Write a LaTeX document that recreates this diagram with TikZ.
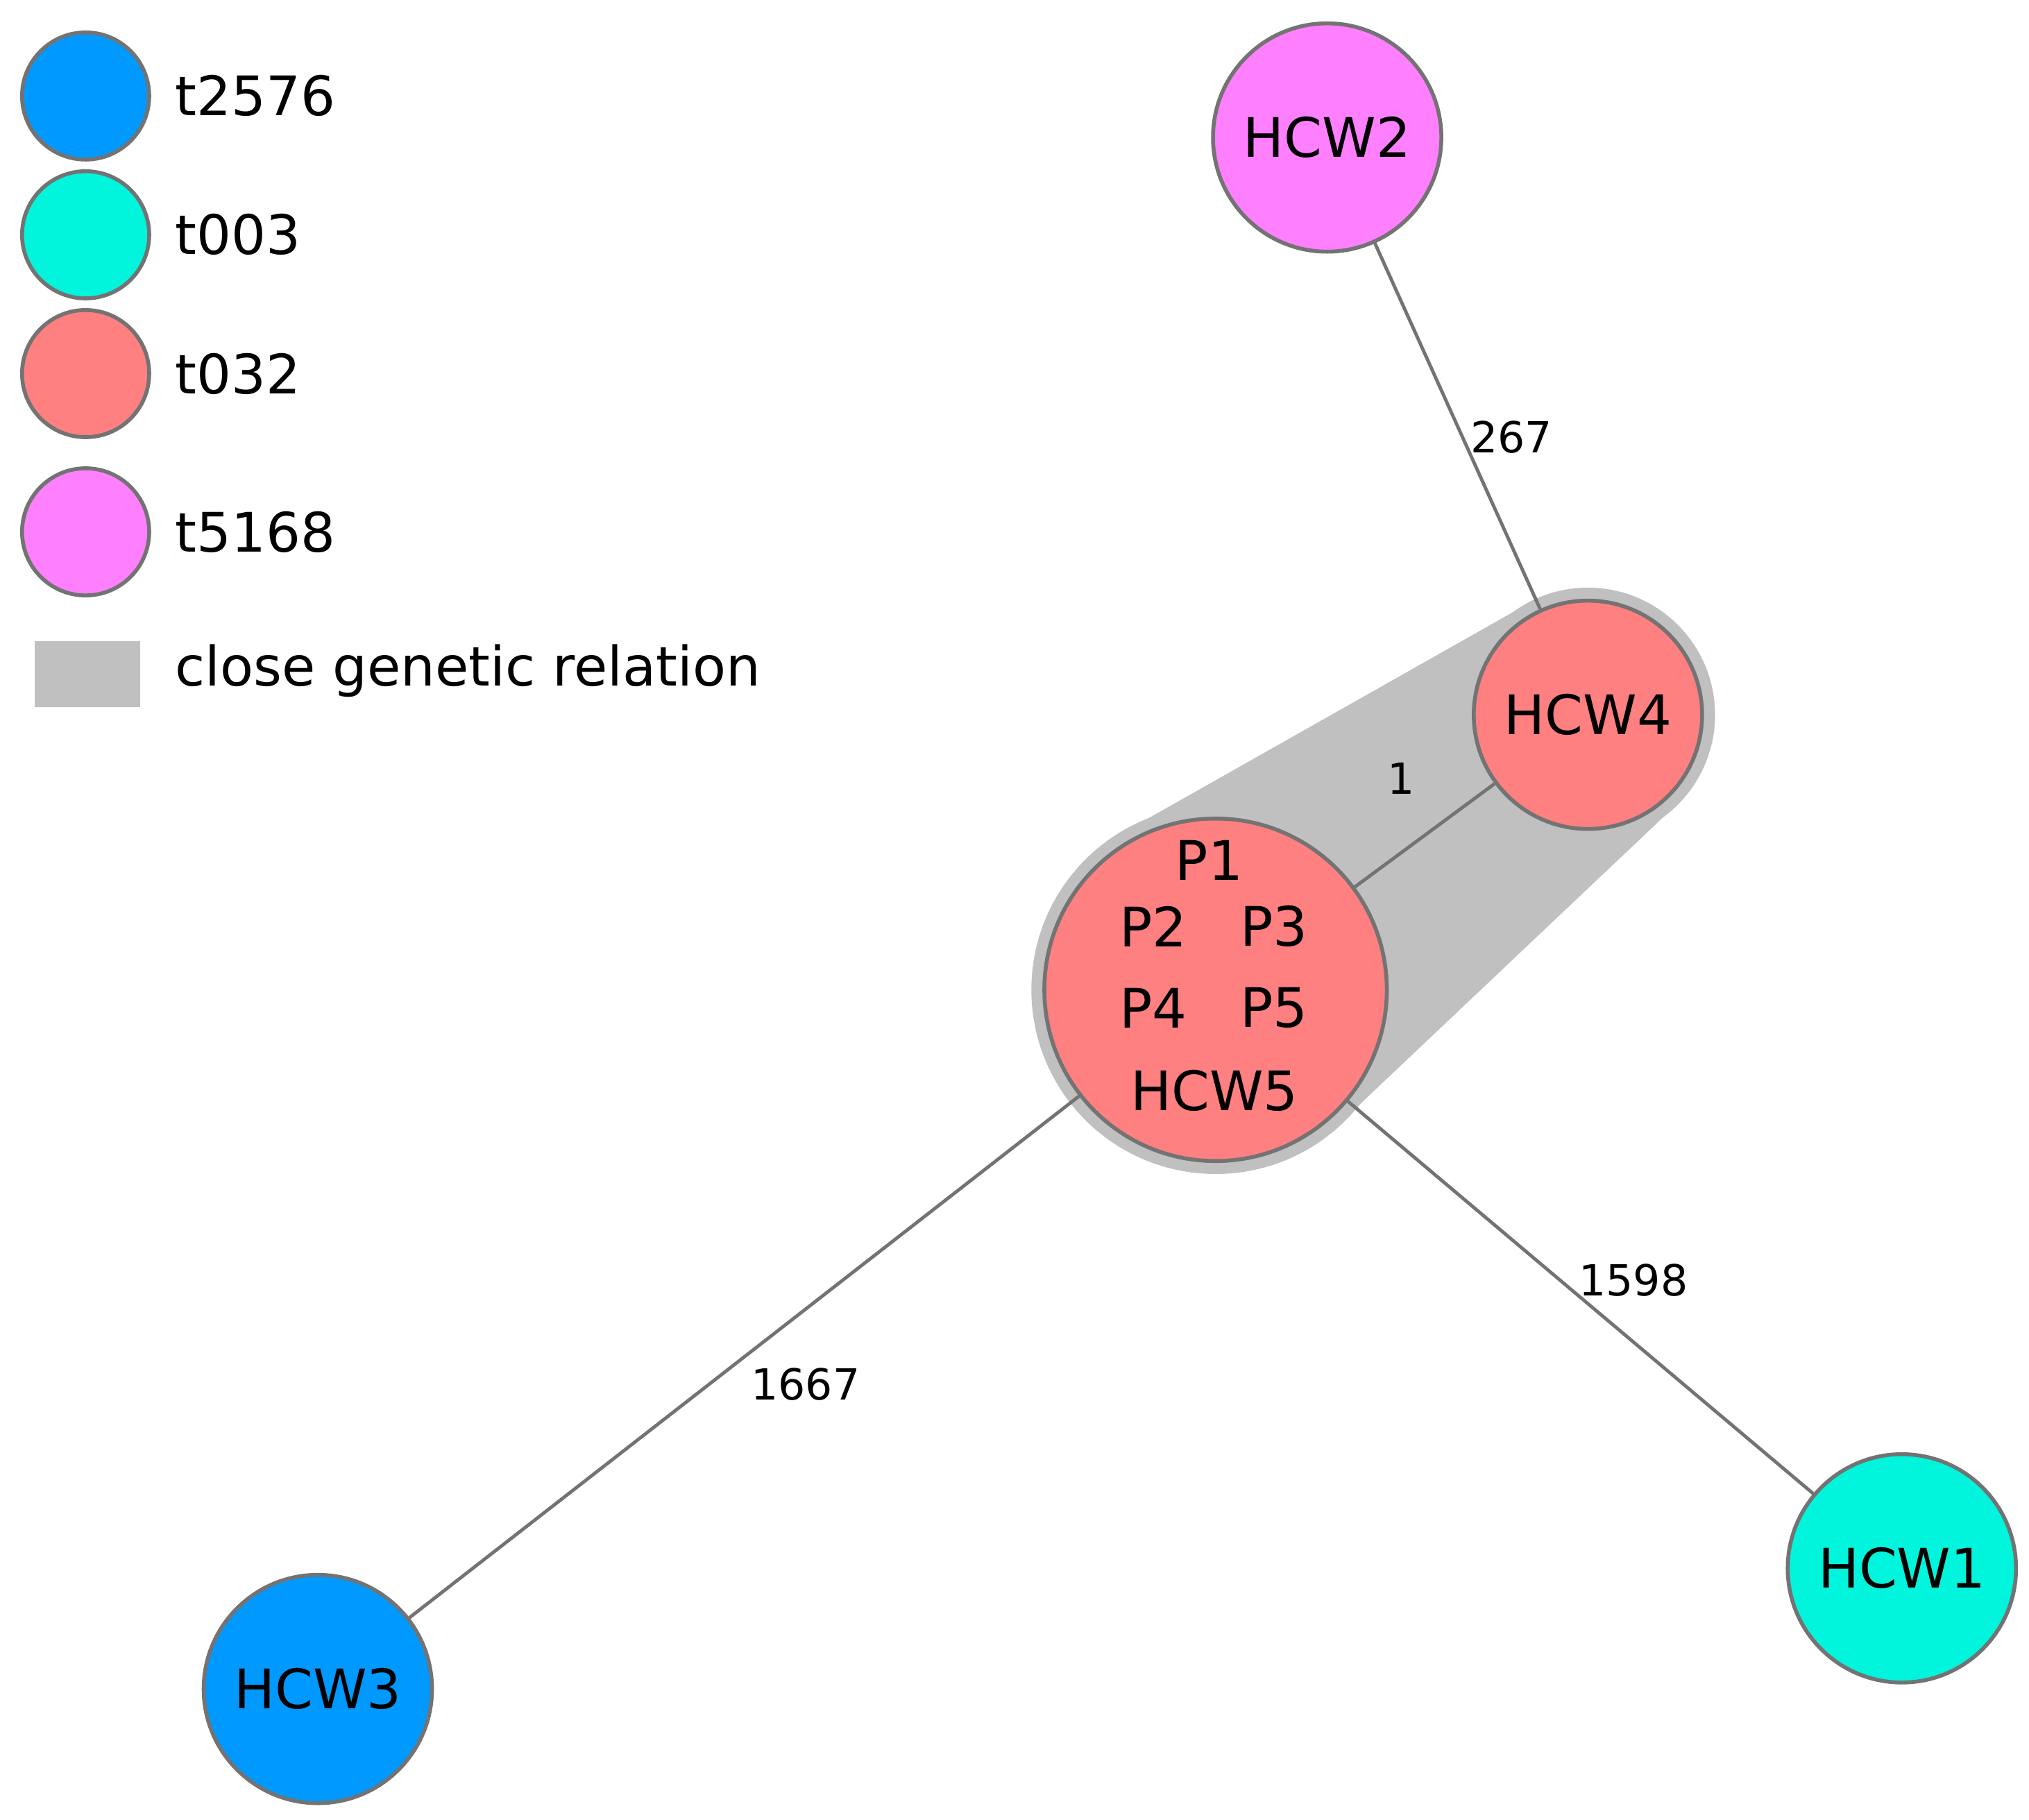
\documentclass[tikz,border=0pt]{standalone}
\usepackage{fontspec}
\setmainfont{DejaVu Sans}
\begin{document}
\begin{tikzpicture}[x=0.5pt,y=-0.5pt,
  nd/.style={circle,draw=gray!90!black,line width=1.5pt,inner sep=0pt,font=\fontsize{21}{24}\selectfont},
  ed/.style={draw=gray!90!black,line width=1.3pt},
  el/.style={font=\fontsize{16.5}{19}\selectfont},
  lt/.style={anchor=west,font=\fontsize{21}{24}\selectfont}]
\definecolor{cb}{HTML}{0099FF}
\definecolor{cc}{HTML}{00F5DC}
\definecolor{cs}{HTML}{FF8080}
\definecolor{cp}{HTML}{FF80FF}
\definecolor{sh}{HTML}{C0C0C0}
\useasboundingbox (0,0) rectangle (1564,1403);
% shaded relation
\fill[sh] (937,763) circle (142);
\fill[sh] (1224,551) circle (98);
\fill[sh] (853,649) -- (1166,472) -- (1282,630) -- (1021,877) -- cycle;
% nodes
\node[nd,fill=cp,minimum size=88pt] (h2) at (1023,106) {HCW2};
\node[nd,fill=cs,minimum size=88pt] (h4) at (1224,551) {HCW4};
\node[nd,fill=cs,minimum size=132pt] (h5) at (937,763) {};
\node[nd,fill=cb,minimum size=88pt] (h3) at (245,1302) {HCW3};
\node[nd,fill=cc,minimum size=88pt] (h1) at (1466,1209) {HCW1};
\foreach \t/\x/\y [count=\i] in {P1/932/663,P2/889/714,P3/982/714,P4/889/777,P5/982/777,HCW5/936/841}
  \node[font=\fontsize{21}{24}\selectfont] (l\i) at (\x,\y) {\t};
% edges
\draw[ed] (h4) -- (h2);
\draw[ed] (h5) -- (h4);
\draw[ed] (h5) -- (h3);
\draw[ed] (h5) -- (h1);
\node[el] (e1) at (1165,337) {267};
\node[el] (e2) at (1080,600) {1};
\node[el] (e3) at (1259,987) {1598};
\node[el] (e4) at (621,1067) {1667};
% legend
\foreach \c/\t/\y [count=\i] in {cb/t2576/74,cc/t003/181,cs/t032/288,cp/t5168/410}{
  \node[nd,fill=\c,minimum size=49pt] (g\i) at (66,\y) {};
  \node[lt] (gt\i) at (128,\y) {\t};
}
\fill[sh] (27,494) rectangle (108,545);
\node[lt] (gt5) at (128,517) {close genetic relation};
\end{tikzpicture}
\end{document}
